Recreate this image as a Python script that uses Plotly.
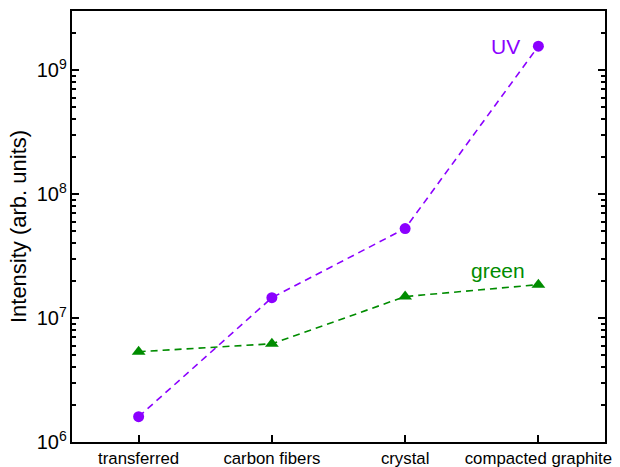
import plotly.graph_objects as go

categories = ["transferred", "carbon fibers", "crystal", "compacted graphite"]
uv_values = [1.6e6, 1.46e7, 5.27e7, 1.56e9]
green_values = [5.35e6, 6.2e6, 1.49e7, 1.86e7]

UV_COLOR = "#8B00FF"
GREEN_COLOR = "#008C00"
FONT = "Liberation Sans, Arial, sans-serif"

x_idx = list(range(len(categories)))

fig = go.Figure()
fig.add_trace(go.Scatter(
    x=x_idx, y=uv_values, mode="lines+markers", name="UV",
    line=dict(color=UV_COLOR, width=1.6, dash="7px,5px"),
    marker=dict(symbol="circle", size=11, color=UV_COLOR),
))
fig.add_trace(go.Scatter(
    x=x_idx, y=green_values, mode="lines+markers", name="green",
    line=dict(color=GREEN_COLOR, width=1.6, dash="7px,5px"),
    marker=dict(symbol="triangle-up", size=12, color=GREEN_COLOR),
))

fig.add_annotation(x=3, y=9.19, xref="x", yref="y", text="UV", showarrow=False,
                   xshift=-33, yshift=0, font=dict(family=FONT, size=21, color=UV_COLOR))
fig.add_annotation(x=3, y=7.27, xref="x", yref="y", text="green", showarrow=False,
                   xshift=-40, yshift=14, font=dict(family=FONT, size=21, color=GREEN_COLOR))

fig.update_layout(
    width=620, height=467,
    margin=dict(l=72, r=15, t=11, b=25),
    paper_bgcolor="white", plot_bgcolor="white",
    showlegend=False,
    font=dict(family=FONT, size=16, color="black"),
)
fig.update_xaxes(
    tickmode="array", tickvals=x_idx, ticktext=categories,
    range=[-0.5, 3.5], showgrid=False, zeroline=False, automargin=False,
    showline=True, linecolor="black", linewidth=2, mirror=True,
    ticks="inside", ticklen=7, tickwidth=2, tickcolor="black",
    tickfont=dict(family=FONT, size=16.8, color="black"),
)
fig.update_yaxes(
    type="log", range=[6, 9.477], dtick=1, exponentformat="power",
    showgrid=False, zeroline=False, automargin=False,
    showline=True, linecolor="black", linewidth=2, mirror="ticks",
    ticks="inside", ticklen=7, tickwidth=2, tickcolor="black",
    tickfont=dict(family=FONT, size=16, color="black"),
    minor=dict(ticks="inside", ticklen=4, tickwidth=1.5, tickcolor="black", showgrid=False),
    title=dict(text="Intensity (arb. units)", font=dict(family=FONT, size=22, color="black"), standoff=4),
)

fig.write_html("out.html", config={"displayModeBar": False},
               post_script="document.body.style.margin='0';document.body.style.overflow='hidden';")
